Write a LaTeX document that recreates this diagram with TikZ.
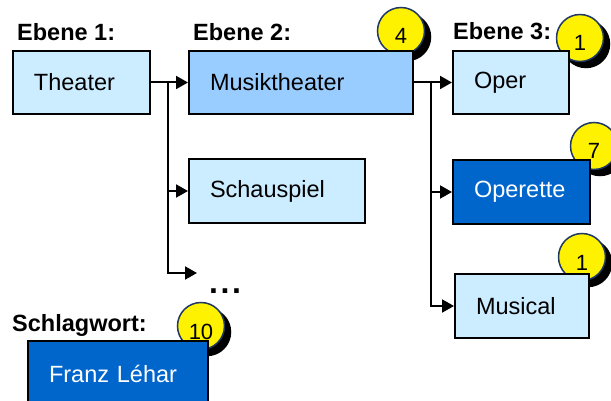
\documentclass[tikz,border=0pt]{standalone}
\usepackage{fontspec}
\setmainfont{Liberation Sans}
\usetikzlibrary{arrows.meta}
\definecolor{lightb}{HTML}{CCECFF}
\definecolor{midb}{HTML}{99CCFF}
\definecolor{darkb}{HTML}{0066CC}
\definecolor{navy}{HTML}{1F3864}
\begin{document}
\begin{tikzpicture}[x=1pt,y=-1pt,
  font=\fontsize{23.5}{28}\selectfont,
  box/.style={draw=black, line width=2pt, anchor=north west, inner xsep=21pt, inner ysep=0pt, align=left},
  lbl/.style={anchor=base west, inner sep=0pt, font=\fontsize{23.5}{28}\selectfont\bfseries},
  circ/.style={circle, draw=navy, line width=1.5pt, fill=yellow, minimum size=47pt, inner sep=0pt,
    text height=26pt, text depth=0pt, font=\fontsize{22}{26}\selectfont},
  shad/.style={fill=black, draw=black, line width=1.5pt},
  conn/.style={line width=2pt, -{Triangle[length=12pt,width=13pt]}}]
\useasboundingbox (0,0) rectangle (611,401);
\clip (0,0) rectangle (611,401);
% circle shadows
\coordinate (s4) at (407,37);
\coordinate (s1a) at (586,44);
\coordinate (s7) at (600,152);
\coordinate (s1b) at (588,263);
\coordinate (s10) at (207,332);
\foreach \c in {s4,s1a,s7,s1b,s10}
  \filldraw[shad] (\c) circle[radius=23.5pt];
% circles (behind boxes)
\node[circ] (c4) at (401,31) {4};
\node[circ] (c1a) at (580,38) {1};
\node[circ] (c7) at (594,146) {7};
\node[circ] (c1b) at (582,257) {1};
\node[circ] (c10) at (201,326) {10};
% labels
\node[lbl] (e1) at (17,41) {Ebene 1:};
\node[lbl] (e2) at (193,41) {Ebene 2:};
\node[lbl] (e3) at (453,40) {Ebene 3:};
\node[lbl] (sw) at (12,331) {Schlagwort:};
\node[lbl, font=\fontsize{32}{36}\selectfont\bfseries] (dots) at (209,293) {.\kern2.6pt.\kern2.6pt.};
% boxes
\node[box, fill=lightb, text width=95pt, minimum height=63pt] (theater) at (12,50) {Theater};
\node[box, fill=midb, text width=182pt, minimum height=63pt] (musik) at (188,50) {Musiktheater};
\node[box, fill=lightb, text width=74pt, minimum height=63pt] (oper) at (452,50) {Oper};
\node[box, fill=lightb, text width=134pt, minimum height=64pt] (schau) at (188,158) {Schauspiel};
\node[box, fill=darkb, text=white, text width=95pt, minimum height=64pt] (operette) at (452,159) {Operette};
\node[box, fill=lightb, text width=92pt, minimum height=64pt] (musical) at (454,273) {Musical};
\node[box, fill=darkb, text=white, text width=138pt, minimum height=66pt] (franz) at (27,340) {Franz Léhar};
% connectors
\coordinate (j1) at (168,81);
\coordinate (j2) at (431,81);
\coordinate (dotsend) at (197,273);
\draw[conn] (theater.east) -- (musik.west);
\draw[conn] (j1) |- (schau.west);
\draw[conn] (j1) |- (dotsend);
\draw[conn] (musik.east) -- (oper.west);
\draw[conn] (j2) |- (operette.west);
\draw[conn] (j2) |- (musical.west);
\end{tikzpicture}
\end{document}
